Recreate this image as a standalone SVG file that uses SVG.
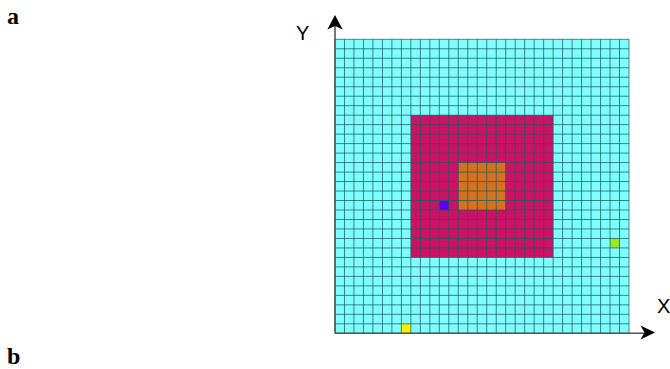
<svg xmlns="http://www.w3.org/2000/svg" width="670" height="369" viewBox="0 0 670 369">
<style>
.lbl{font-family:"Liberation Serif",serif;font-weight:bold;font-size:24px;fill:#000}
.ax{font-family:"Liberation Sans",Arial,sans-serif;font-size:20px;fill:#000}
.gl{stroke:#1d5c5c;stroke-opacity:0.8;stroke-width:0.1;fill:none}
.axis{stroke:#555;stroke-width:1.6;fill:none}
</style>
<rect width="670" height="369" fill="#fff"/>
<text class="lbl" x="7" y="24">a</text>
<text class="lbl" x="7" y="364">b</text>
<g id="grid" transform="translate(335,39.3) scale(9.484)">
<rect x="0" y="0" width="31" height="31" fill="#80ffff"/>
<rect id="outer-region" x="8" y="8" width="15" height="15" fill="#cc1166"/>
<rect id="inner-region" x="13" y="13" width="5" height="5" fill="#d4731f"/>
<rect id="blue-cell" x="11" y="17" width="1" height="1" fill="#5500ff"/>
<rect id="green-cell" x="29" y="21" width="1" height="1" fill="#a0e61e"/>
<rect id="yellow-cell" x="7" y="30" width="1" height="1" fill="#ffee00"/>
<path class="gl" d="M0 0V31M1 0V31M2 0V31M3 0V31M4 0V31M5 0V31M6 0V31M7 0V31M8 0V31M9 0V31M10 0V31M11 0V31M12 0V31M13 0V31M14 0V31M15 0V31M16 0V31M17 0V31M18 0V31M19 0V31M20 0V31M21 0V31M22 0V31M23 0V31M24 0V31M25 0V31M26 0V31M27 0V31M28 0V31M29 0V31M30 0V31M31 0V31M0 0H31M0 1H31M0 2H31M0 3H31M0 4H31M0 5H31M0 6H31M0 7H31M0 8H31M0 9H31M0 10H31M0 11H31M0 12H31M0 13H31M0 14H31M0 15H31M0 16H31M0 17H31M0 18H31M0 19H31M0 20H31M0 21H31M0 22H31M0 23H31M0 24H31M0 25H31M0 26H31M0 27H31M0 28H31M0 29H31M0 30H31M0 31H31"/>
</g>
<g id="axes">
<path class="axis" d="M335 333.3V24M335 333.3H646"/>
<path d="M335 15L342.7 29.5L335 26L327.3 29.5Z" fill="#000"/>
<path d="M655 332.5L640.5 325.5L644.5 332.5L640.5 339.5Z" fill="#000"/>
<text class="ax" x="296" y="40">Y</text>
<text class="ax" x="657" y="313">X</text>
</g>
</svg>
